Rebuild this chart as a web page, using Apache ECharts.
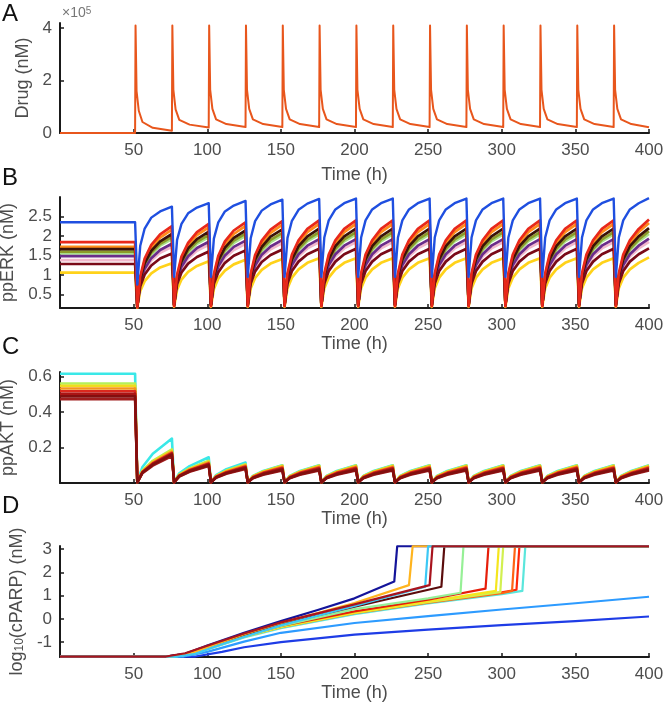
<!DOCTYPE html>
<html><head><meta charset="utf-8">
<script src="https://cdn.jsdelivr.net/npm/echarts@6/dist/echarts.min.js"></script>
<style>html,body{margin:0;padding:0;background:#fff}#c{width:666px;height:708px}</style>
</head><body><div id="c"></div>
<script>
// ---------- shared ticks ----------
const timeTicks = [50, 100, 150, 200, 250, 300, 350, 400];
const drugTicks = [0, 200000, 400000];
const erkTicks = [0.5, 1, 1.5, 2, 2.5];
const aktTicks = [0.2, 0.4, 0.6];
const parpTicks = [-1, 0, 1, 2, 3];

// ---------- Panel A: drug (nM) ----------
const drugTime = [0, 51,
  51.3, 52, 53.5, 56, 63, 76,
  76.3, 77, 78.5, 81, 88, 101,
  101.3, 102, 103.5, 106, 113, 126,
  126.3, 127, 128.5, 131, 138, 151,
  151.3, 152, 153.5, 156, 163, 176,
  176.3, 177, 178.5, 181, 188, 201,
  201.3, 202, 203.5, 206, 213, 226,
  226.3, 227, 228.5, 231, 238, 251,
  251.3, 252, 253.5, 256, 263, 276,
  276.3, 277, 278.5, 281, 288, 301,
  301.3, 302, 303.5, 306, 313, 326,
  326.3, 327, 328.5, 331, 338, 351,
  351.3, 352, 353.5, 356, 363, 376,
  376.3, 377, 378.5, 381, 388, 400];
const drugValue = [0, 0,
  410000, 160000, 85000, 42000, 20000, 9000,
  410000, 165000, 90000, 50000, 32000, 21000,
  410000, 165000, 92000, 52000, 34000, 23000,
  410000, 165000, 92000, 52000, 34000, 23000,
  410000, 165000, 92000, 52000, 34000, 23000,
  410000, 165000, 92000, 52000, 34000, 23000,
  410000, 165000, 92000, 52000, 34000, 23000,
  410000, 165000, 92000, 52000, 34000, 23000,
  410000, 165000, 92000, 52000, 34000, 23000,
  410000, 165000, 92000, 52000, 34000, 23000,
  410000, 165000, 92000, 52000, 34000, 23000,
  410000, 165000, 92000, 52000, 34000, 23000,
  410000, 165000, 92000, 52000, 34000, 23000,
  410000, 165000, 92000, 52000, 34000, 22000];

// ---------- Panel B: ppERK (nM) ----------
const erkTime = [0, 51,
  52.5, 54.5, 57.5, 62, 68, 76,
  77.5, 79.5, 82.5, 87, 93, 101,
  102.5, 104.5, 107.5, 112, 118, 126,
  127.5, 129.5, 132.5, 137, 143, 151,
  152.5, 154.5, 157.5, 162, 168, 176,
  177.5, 179.5, 182.5, 187, 193, 201,
  202.5, 204.5, 207.5, 212, 218, 226,
  227.5, 229.5, 232.5, 237, 243, 251,
  252.5, 254.5, 257.5, 262, 268, 276,
  277.5, 279.5, 282.5, 287, 293, 301,
  302.5, 304.5, 307.5, 312, 318, 326,
  327.5, 329.5, 332.5, 337, 343, 351,
  352.5, 354.5, 357.5, 362, 368, 376,
  377.5, 379.5, 382.5, 387, 393, 400];

const erkBlue = [2.35, 2.35,
  0.75, 1.75, 2.19, 2.47, 2.63, 2.75,
  0.95, 1.9, 2.31, 2.58, 2.73, 2.84,
  0.95, 1.93, 2.35, 2.63, 2.78, 2.9,
  0.95, 1.94, 2.38, 2.65, 2.81, 2.93,
  0.95, 1.95, 2.39, 2.67, 2.83, 2.95,
  0.95, 1.96, 2.4, 2.68, 2.84, 2.96,
  0.95, 1.96, 2.4, 2.68, 2.84, 2.96,
  0.95, 1.96, 2.4, 2.68, 2.84, 2.96,
  0.95, 1.96, 2.4, 2.68, 2.84, 2.96,
  0.95, 1.96, 2.4, 2.68, 2.84, 2.96,
  0.95, 1.96, 2.4, 2.68, 2.84, 2.96,
  0.95, 1.96, 2.4, 2.68, 2.84, 2.96,
  0.95, 1.96, 2.4, 2.68, 2.84, 2.96,
  0.95, 1.96, 2.4, 2.68, 2.84, 2.97];
const erkRed = [1.84, 1.84,
  0.17, 0.96, 1.42, 1.77, 2.04, 2.25,
  0.2, 1.0, 1.47, 1.82, 2.1, 2.31,
  0.2, 1.02, 1.49, 1.86, 2.14, 2.35,
  0.2, 1.03, 1.51, 1.88, 2.16, 2.38,
  0.2, 1.04, 1.52, 1.89, 2.18, 2.4,
  0.2, 1.04, 1.52, 1.89, 2.18, 2.4,
  0.2, 1.04, 1.52, 1.89, 2.18, 2.4,
  0.2, 1.04, 1.52, 1.89, 2.18, 2.4,
  0.2, 1.04, 1.52, 1.89, 2.18, 2.4,
  0.2, 1.04, 1.52, 1.89, 2.18, 2.4,
  0.2, 1.04, 1.52, 1.89, 2.18, 2.4,
  0.2, 1.04, 1.52, 1.89, 2.18, 2.4,
  0.2, 1.04, 1.52, 1.89, 2.18, 2.4,
  0.2, 1.04, 1.52, 1.89, 2.18, 2.42];
const erkOrange = [1.72, 1.72,
  0.16, 0.92, 1.36, 1.7, 1.96, 2.16,
  0.2, 0.97, 1.41, 1.76, 2.02, 2.22,
  0.2, 0.98, 1.44, 1.79, 2.05, 2.26,
  0.2, 0.99, 1.45, 1.81, 2.08, 2.29,
  0.2, 1.0, 1.47, 1.82, 2.1, 2.31,
  0.2, 1.0, 1.47, 1.82, 2.1, 2.31,
  0.2, 1.0, 1.47, 1.82, 2.1, 2.31,
  0.2, 1.0, 1.47, 1.82, 2.1, 2.31,
  0.2, 1.0, 1.47, 1.82, 2.1, 2.31,
  0.2, 1.0, 1.47, 1.82, 2.1, 2.31,
  0.2, 1.0, 1.47, 1.82, 2.1, 2.31,
  0.2, 1.0, 1.47, 1.82, 2.1, 2.31,
  0.2, 1.0, 1.47, 1.82, 2.1, 2.31,
  0.2, 1.0, 1.47, 1.82, 2.1, 2.33];
const erkDark = [1.66, 1.66,
  0.18, 0.89, 1.3, 1.62, 1.86, 2.05,
  0.22, 0.94, 1.35, 1.68, 1.92, 2.11,
  0.22, 0.95, 1.37, 1.7, 1.95, 2.14,
  0.22, 0.96, 1.39, 1.72, 1.98, 2.17,
  0.22, 0.97, 1.4, 1.74, 1.99, 2.19,
  0.22, 0.97, 1.4, 1.74, 1.99, 2.19,
  0.22, 0.97, 1.4, 1.74, 1.99, 2.19,
  0.22, 0.97, 1.4, 1.74, 1.99, 2.19,
  0.22, 0.97, 1.4, 1.74, 1.99, 2.19,
  0.22, 0.97, 1.4, 1.74, 1.99, 2.19,
  0.22, 0.97, 1.4, 1.74, 1.99, 2.19,
  0.22, 0.97, 1.4, 1.74, 1.99, 2.19,
  0.22, 0.97, 1.4, 1.74, 1.99, 2.19,
  0.22, 0.97, 1.4, 1.74, 1.99, 2.2];
const erkOlive = [1.6, 1.6,
  0.2, 0.88, 1.27, 1.57, 1.8, 1.98,
  0.24, 0.92, 1.31, 1.62, 1.85, 2.03,
  0.24, 0.93, 1.33, 1.64, 1.88, 2.06,
  0.24, 0.94, 1.34, 1.66, 1.9, 2.08,
  0.24, 0.95, 1.36, 1.67, 1.91, 2.1,
  0.24, 0.95, 1.36, 1.67, 1.91, 2.1,
  0.24, 0.95, 1.36, 1.67, 1.91, 2.1,
  0.24, 0.95, 1.36, 1.67, 1.91, 2.1,
  0.24, 0.95, 1.36, 1.67, 1.91, 2.1,
  0.24, 0.95, 1.36, 1.67, 1.91, 2.1,
  0.24, 0.95, 1.36, 1.67, 1.91, 2.1,
  0.24, 0.95, 1.36, 1.67, 1.91, 2.1,
  0.24, 0.95, 1.36, 1.67, 1.91, 2.1,
  0.24, 0.95, 1.36, 1.67, 1.91, 2.12];
const erkMint = [1.55, 1.55,
  0.2, 0.85, 1.23, 1.52, 1.75, 1.92,
  0.24, 0.9, 1.28, 1.57, 1.8, 1.97,
  0.24, 0.91, 1.3, 1.6, 1.82, 2.0,
  0.24, 0.92, 1.31, 1.61, 1.84, 2.02,
  0.24, 0.92, 1.32, 1.63, 1.86, 2.04,
  0.24, 0.92, 1.32, 1.63, 1.86, 2.04,
  0.24, 0.92, 1.32, 1.63, 1.86, 2.04,
  0.24, 0.92, 1.32, 1.63, 1.86, 2.04,
  0.24, 0.92, 1.32, 1.63, 1.86, 2.04,
  0.24, 0.92, 1.32, 1.63, 1.86, 2.04,
  0.24, 0.92, 1.32, 1.63, 1.86, 2.04,
  0.24, 0.92, 1.32, 1.63, 1.86, 2.04,
  0.24, 0.92, 1.32, 1.63, 1.86, 2.04,
  0.24, 0.92, 1.32, 1.63, 1.86, 2.05];
const erkPurple = [1.48, 1.48,
  0.2, 0.81, 1.16, 1.43, 1.64, 1.8,
  0.24, 0.85, 1.21, 1.48, 1.69, 1.85,
  0.24, 0.86, 1.22, 1.5, 1.72, 1.88,
  0.24, 0.87, 1.24, 1.52, 1.73, 1.9,
  0.24, 0.88, 1.25, 1.53, 1.75, 1.92,
  0.24, 0.88, 1.25, 1.53, 1.75, 1.92,
  0.24, 0.88, 1.25, 1.53, 1.75, 1.92,
  0.24, 0.88, 1.25, 1.53, 1.75, 1.92,
  0.24, 0.88, 1.25, 1.53, 1.75, 1.92,
  0.24, 0.88, 1.25, 1.53, 1.75, 1.92,
  0.24, 0.88, 1.25, 1.53, 1.75, 1.92,
  0.24, 0.88, 1.25, 1.53, 1.75, 1.92,
  0.24, 0.88, 1.25, 1.53, 1.75, 1.92,
  0.24, 0.88, 1.25, 1.53, 1.75, 1.93];
const erkPink = [1.38, 1.38,
  0.2, 0.78, 1.11, 1.37, 1.57, 1.72,
  0.24, 0.82, 1.16, 1.42, 1.62, 1.77,
  0.24, 0.83, 1.18, 1.44, 1.64, 1.8,
  0.24, 0.84, 1.19, 1.46, 1.66, 1.82,
  0.24, 0.85, 1.2, 1.47, 1.68, 1.84,
  0.24, 0.85, 1.2, 1.47, 1.68, 1.84,
  0.24, 0.85, 1.2, 1.47, 1.68, 1.84,
  0.24, 0.85, 1.2, 1.47, 1.68, 1.84,
  0.24, 0.85, 1.2, 1.47, 1.68, 1.84,
  0.24, 0.85, 1.2, 1.47, 1.68, 1.84,
  0.24, 0.85, 1.2, 1.47, 1.68, 1.84,
  0.24, 0.85, 1.2, 1.47, 1.68, 1.84,
  0.24, 0.85, 1.2, 1.47, 1.68, 1.84,
  0.24, 0.85, 1.2, 1.47, 1.68, 1.85];
const erkDarkRed = [1.28, 1.28,
  0.2, 0.71, 1.01, 1.24, 1.42, 1.55,
  0.24, 0.76, 1.06, 1.29, 1.46, 1.6,
  0.24, 0.77, 1.07, 1.31, 1.49, 1.63,
  0.24, 0.78, 1.09, 1.33, 1.51, 1.65,
  0.24, 0.78, 1.1, 1.34, 1.53, 1.67,
  0.24, 0.78, 1.1, 1.34, 1.53, 1.67,
  0.24, 0.78, 1.1, 1.34, 1.53, 1.67,
  0.24, 0.78, 1.1, 1.34, 1.53, 1.67,
  0.24, 0.78, 1.1, 1.34, 1.53, 1.67,
  0.24, 0.78, 1.1, 1.34, 1.53, 1.67,
  0.24, 0.78, 1.1, 1.34, 1.53, 1.67,
  0.24, 0.78, 1.1, 1.34, 1.53, 1.67,
  0.24, 0.78, 1.1, 1.34, 1.53, 1.67,
  0.24, 0.78, 1.1, 1.34, 1.53, 1.68];
const erkYellow = [1.06, 1.06,
  0.16, 0.59, 0.84, 1.04, 1.19, 1.3,
  0.18, 0.62, 0.88, 1.08, 1.23, 1.35,
  0.18, 0.64, 0.91, 1.11, 1.27, 1.39,
  0.18, 0.65, 0.92, 1.13, 1.29, 1.41,
  0.18, 0.66, 0.93, 1.14, 1.31, 1.43,
  0.18, 0.66, 0.93, 1.14, 1.31, 1.43,
  0.18, 0.66, 0.93, 1.14, 1.31, 1.43,
  0.18, 0.66, 0.93, 1.14, 1.31, 1.43,
  0.18, 0.66, 0.93, 1.14, 1.31, 1.43,
  0.18, 0.66, 0.93, 1.14, 1.31, 1.43,
  0.18, 0.66, 0.93, 1.14, 1.31, 1.43,
  0.18, 0.66, 0.93, 1.14, 1.31, 1.43,
  0.18, 0.66, 0.93, 1.14, 1.31, 1.43,
  0.18, 0.66, 0.93, 1.14, 1.31, 1.45];

// ---------- Panel C: ppAKT (nM) ----------
const aktTime = [0, 51,
  52.5, 56, 63, 76,
  77.5, 81, 88, 101,
  102.5, 106, 113, 126,
  127.5, 131, 138, 151,
  152.5, 156, 163, 176,
  177.5, 181, 188, 201,
  202.5, 206, 213, 226,
  227.5, 231, 238, 251,
  252.5, 256, 263, 276,
  277.5, 281, 288, 301,
  302.5, 306, 313, 326,
  327.5, 331, 338, 351,
  352.5, 356, 363, 376,
  377.5, 381, 388, 400];
const aktCyan = [0.615, 0.615,
  0.004, 0.09, 0.165, 0.25,
  0.004, 0.055, 0.095, 0.145,
  0.004, 0.045, 0.078, 0.115,
  0.004, 0.04, 0.068, 0.1,
  0.004, 0.04, 0.068, 0.1,
  0.004, 0.04, 0.068, 0.1,
  0.004, 0.04, 0.068, 0.1,
  0.004, 0.04, 0.068, 0.1,
  0.004, 0.04, 0.068, 0.1,
  0.004, 0.04, 0.068, 0.1,
  0.004, 0.04, 0.068, 0.1,
  0.004, 0.04, 0.068, 0.1,
  0.004, 0.04, 0.068, 0.1,
  0.004, 0.04, 0.068, 0.1];
const aktLime = [0.56, 0.56,
  0.004, 0.07, 0.125, 0.19,
  0.004, 0.048, 0.082, 0.125,
  0.004, 0.04, 0.07, 0.105,
  0.004, 0.038, 0.065, 0.098,
  0.004, 0.038, 0.065, 0.098,
  0.004, 0.038, 0.065, 0.098,
  0.004, 0.038, 0.065, 0.098,
  0.004, 0.038, 0.065, 0.098,
  0.004, 0.038, 0.065, 0.098,
  0.004, 0.038, 0.065, 0.098,
  0.004, 0.038, 0.065, 0.098,
  0.004, 0.038, 0.065, 0.098,
  0.004, 0.038, 0.065, 0.098,
  0.004, 0.038, 0.065, 0.098];
const aktYellow = [0.548, 0.548,
  0.004, 0.067, 0.12, 0.182,
  0.004, 0.046, 0.079, 0.12,
  0.004, 0.039, 0.068, 0.102,
  0.004, 0.037, 0.064, 0.096,
  0.004, 0.037, 0.064, 0.096,
  0.004, 0.037, 0.064, 0.096,
  0.004, 0.037, 0.064, 0.096,
  0.004, 0.037, 0.064, 0.096,
  0.004, 0.037, 0.064, 0.096,
  0.004, 0.037, 0.064, 0.096,
  0.004, 0.037, 0.064, 0.096,
  0.004, 0.037, 0.064, 0.096,
  0.004, 0.037, 0.064, 0.096,
  0.004, 0.037, 0.064, 0.096];
const aktOrange = [0.532, 0.532,
  0.004, 0.064, 0.115, 0.176,
  0.004, 0.044, 0.076, 0.116,
  0.004, 0.037, 0.065, 0.098,
  0.004, 0.035, 0.061, 0.092,
  0.004, 0.035, 0.061, 0.092,
  0.004, 0.035, 0.061, 0.092,
  0.004, 0.035, 0.061, 0.092,
  0.004, 0.035, 0.061, 0.092,
  0.004, 0.035, 0.061, 0.092,
  0.004, 0.035, 0.061, 0.092,
  0.004, 0.035, 0.061, 0.092,
  0.004, 0.035, 0.061, 0.092,
  0.004, 0.035, 0.061, 0.092,
  0.004, 0.035, 0.061, 0.092];
const aktRed = [0.517, 0.517,
  0.004, 0.062, 0.11, 0.17,
  0.004, 0.042, 0.072, 0.11,
  0.004, 0.035, 0.061, 0.093,
  0.004, 0.032, 0.057, 0.086,
  0.004, 0.032, 0.057, 0.086,
  0.004, 0.032, 0.057, 0.086,
  0.004, 0.032, 0.057, 0.086,
  0.004, 0.032, 0.057, 0.086,
  0.004, 0.032, 0.057, 0.086,
  0.004, 0.032, 0.057, 0.086,
  0.004, 0.032, 0.057, 0.086,
  0.004, 0.032, 0.057, 0.086,
  0.004, 0.032, 0.057, 0.086,
  0.004, 0.032, 0.057, 0.086];
const aktDarkRed = [0.502, 0.502,
  0.004, 0.06, 0.107, 0.165,
  0.004, 0.04, 0.07, 0.106,
  0.004, 0.033, 0.058, 0.088,
  0.004, 0.03, 0.053, 0.08,
  0.004, 0.03, 0.053, 0.08,
  0.004, 0.03, 0.053, 0.08,
  0.004, 0.03, 0.053, 0.08,
  0.004, 0.03, 0.053, 0.08,
  0.004, 0.03, 0.053, 0.08,
  0.004, 0.03, 0.053, 0.08,
  0.004, 0.03, 0.053, 0.08,
  0.004, 0.03, 0.053, 0.08,
  0.004, 0.03, 0.053, 0.08,
  0.004, 0.03, 0.053, 0.08];
const aktMaroon = [0.488, 0.488,
  0.004, 0.058, 0.103, 0.16,
  0.004, 0.038, 0.066, 0.1,
  0.004, 0.031, 0.055, 0.083,
  0.004, 0.028, 0.05, 0.075,
  0.004, 0.028, 0.05, 0.075,
  0.004, 0.028, 0.05, 0.075,
  0.004, 0.028, 0.05, 0.075,
  0.004, 0.028, 0.05, 0.075,
  0.004, 0.028, 0.05, 0.075,
  0.004, 0.028, 0.05, 0.075,
  0.004, 0.028, 0.05, 0.075,
  0.004, 0.028, 0.05, 0.075,
  0.004, 0.028, 0.05, 0.075,
  0.004, 0.028, 0.05, 0.075];
const aktBrick = [0.472, 0.472,
  0.004, 0.055, 0.098, 0.152,
  0.004, 0.036, 0.063, 0.096,
  0.004, 0.03, 0.052, 0.079,
  0.004, 0.027, 0.047, 0.07,
  0.004, 0.027, 0.047, 0.07,
  0.004, 0.027, 0.047, 0.07,
  0.004, 0.027, 0.047, 0.07,
  0.004, 0.027, 0.047, 0.07,
  0.004, 0.027, 0.047, 0.07,
  0.004, 0.027, 0.047, 0.07,
  0.004, 0.027, 0.047, 0.07,
  0.004, 0.027, 0.047, 0.07,
  0.004, 0.027, 0.047, 0.07,
  0.004, 0.027, 0.047, 0.07];

// ---------- Panel D: log10(cPARP) (nM), [time, value] ----------
const parpBlue = [[0,-1.62],[92,-1.62],[110,-1.42],[125,-1.22],[150,-1.0],[200,-0.68],[250,-0.46],[300,-0.27],[350,-0.1],[400,0.1]];
const parpLightBlue = [[0,-1.62],[84,-1.62],[100,-1.42],[125,-0.98],[150,-0.6],[200,-0.18],[250,0.12],[300,0.4],[350,0.67],[400,0.95]];
const parpCyan = [[0,-1.62],[78,-1.62],[91,-1.5],[100,-1.32],[125,-0.8],[150,-0.4],[200,0.2],[250,0.66],[300,1.06],[314,1.2],[316,3.12],[400,3.12]];
const parpScarlet = [[0,-1.62],[74,-1.62],[87,-1.5],[100,-1.26],[125,-0.76],[150,-0.35],[200,0.26],[250,0.72],[300,1.14],[310,1.25],[312,3.12],[400,3.12]];
const parpOrangeRed = [[0,-1.62],[74,-1.62],[87,-1.5],[100,-1.26],[125,-0.76],[150,-0.36],[200,0.24],[250,0.7],[300,1.1],[307,1.2],[309,3.12],[400,3.12]];
const parpLime = [[0,-1.62],[77,-1.62],[90,-1.5],[100,-1.3],[125,-0.78],[150,-0.36],[200,0.25],[250,0.72],[299,1.15],[301,3.12],[400,3.12]];
const parpYellow = [[0,-1.62],[76,-1.62],[89,-1.5],[100,-1.27],[125,-0.75],[150,-0.34],[200,0.27],[250,0.75],[296,1.2],[298,3.12],[400,3.12]];
const parpRed = [[0,-1.62],[74,-1.62],[87,-1.5],[100,-1.24],[125,-0.72],[150,-0.3],[200,0.32],[250,0.82],[289,1.3],[291,3.12],[400,3.12]];
const parpMint = [[0,-1.62],[78,-1.62],[90,-1.5],[100,-1.28],[125,-0.74],[150,-0.3],[200,0.42],[250,0.88],[272,1.12],[274,3.12],[400,3.12]];
const parpMaroon = [[0,-1.62],[72,-1.62],[85,-1.5],[100,-1.2],[125,-0.68],[150,-0.22],[200,0.52],[259,1.38],[261,3.12],[400,3.12]];
const parpDarkBlue = [[0,-1.62],[72,-1.62],[85,-1.5],[100,-1.15],[125,-0.6],[150,-0.1],[175,0.38],[200,0.88],[227,1.6],[229,3.12],[400,3.12]];
const parpAmber = [[0,-1.62],[75,-1.62],[88,-1.5],[100,-1.22],[125,-0.66],[150,-0.18],[175,0.25],[200,0.68],[237,1.45],[239.5,3.12],[400,3.12]];
const parpSky = [[0,-1.62],[80,-1.62],[92,-1.5],[105,-1.2],[125,-0.78],[150,-0.28],[200,0.55],[248,1.38],[250,3.12],[400,3.12]];
const parpCrimson = [[0,-1.62],[72,-1.62],[85,-1.48],[100,-1.16],[125,-0.63],[150,-0.15],[200,0.62],[251,1.45],[253,3.12],[400,3.12]];

// ---------- build ----------
const FONT = '"Liberation Sans", Arial, Helvetica, sans-serif';
const AX = '#1a1a1a', TXT = '#4d4d4d';
const zip = (t, v) => t.map((x, i) => [x, v[i]]);

const gridsPx = [[23, 110], [197, 111], [372, 111], [546, 111]];
const yNames = ['Drug (nM)', 'ppERK (nM)', 'ppAKT (nM)', '{n|log}{s|10}{n|(cPARP) (nM)}'];
const yRange = [[0, 420000], [0.15, 3.0], [0, 0.625], [-1.64, 3.13]];
const yTickSets = [drugTicks, erkTicks, aktTicks, parpTicks];
const yGap = [26, 31, 31, 31];
const xGap = [33, 27, 27, 27];

const grid = gridsPx.map(([t, h]) => ({ left: 60, width: 589, top: t, height: h, outerBoundsMode: 'none', containLabel: false }));
const xAxis = gridsPx.map((g, i) => ({
  type: 'value', gridIndex: i, min: 0, max: 400,
  name: 'Time (h)', nameLocation: 'middle', nameGap: xGap[i],
  nameTextStyle: { color: TXT, fontSize: 18, fontFamily: FONT },
  axisLine: { show: true, onZero: false, lineStyle: { color: AX, width: 2 } },
  axisTick: { show: true, inside: true, length: 4, customValues: timeTicks, lineStyle: { color: AX, width: 1.5 } },
  axisLabel: { customValues: timeTicks, color: TXT, fontSize: 17, margin: 9, fontFamily: FONT },
  splitLine: { show: false }
}));
const yAxis = gridsPx.map((g, i) => ({
  type: 'value', gridIndex: i, min: yRange[i][0], max: yRange[i][1],
  name: yNames[i], nameLocation: 'middle', nameGap: yGap[i],
  nameTextStyle: { color: TXT, fontSize: 18, fontFamily: FONT,
    rich: { n: { fontSize: 18, color: TXT, fontFamily: FONT }, s: { fontSize: 12, color: TXT, fontFamily: FONT, verticalAlign: 'bottom', padding: [6, 0, 0, 0] } } },
  axisLine: { show: true, onZero: false, lineStyle: { color: AX, width: 2 } },
  axisTick: { show: true, inside: true, length: 4, customValues: yTickSets[i], lineStyle: { color: AX, width: 1.5 } },
  axisLabel: { customValues: yTickSets[i], color: TXT, fontSize: 17, margin: 8, fontFamily: FONT,
    formatter: i === 0 ? (v => String(Math.round(v / 100000))) : (v => String(v)) },
  splitLine: { show: false }
}));

function line(idx, data, color, width) {
  return { type: 'line', xAxisIndex: idx, yAxisIndex: idx, data, showSymbol: false, symbol: 'none',
    smooth: false, lineStyle: { color, width, join: 'round' }, itemStyle: { color },
    animation: false, silent: true };
}

const series = [
  line(0, zip(drugTime, drugValue), '#e8561c', 2),

  line(1, zip(erkTime, erkYellow), '#ffd21a', 2.7),
  line(1, zip(erkTime, erkPink), '#f2b8cc', 2.7),
  line(1, zip(erkTime, erkMint), '#a8e088', 2.7),
  line(1, zip(erkTime, erkOrange), '#ff8c1a', 2.7),
  line(1, zip(erkTime, erkOlive), '#8c9a2a', 2.7),
  line(1, zip(erkTime, erkPurple), '#6a2c8a', 2.7),
  line(1, zip(erkTime, erkDarkRed), '#7a0a18', 2.7),
  line(1, zip(erkTime, erkDark), '#3a1208', 2.7),
  line(1, zip(erkTime, erkRed), '#e8281a', 2.7),
  line(1, zip(erkTime, erkBlue), '#1f4fe0', 2.4),

  line(2, zip(aktTime, aktCyan), '#3ae8e8', 2.6),
  line(2, zip(aktTime, aktLime), '#b4f05a', 2.6),
  line(2, zip(aktTime, aktYellow), '#f0dc1e', 2.6),
  line(2, zip(aktTime, aktOrange), '#f5961e', 2.6),
  line(2, zip(aktTime, aktRed), '#dc281e', 2.6),
  line(2, zip(aktTime, aktBrick), '#a01e1e', 2.6),
  line(2, zip(aktTime, aktDarkRed), '#aa1414', 2.6),
  line(2, zip(aktTime, aktMaroon), '#820f0f', 2.6),

  line(3, parpBlue, '#1e3ce6', 2.2),
  line(3, parpLightBlue, '#2d9bff', 2.2),
  line(3, parpCyan, '#5ae6dc', 2.2),
  line(3, parpScarlet, '#ff280a', 2.2),
  line(3, parpOrangeRed, '#ff6414', 2.2),
  line(3, parpLime, '#d2f050', 2.2),
  line(3, parpYellow, '#f5e61e', 2.2),
  line(3, parpRed, '#e61e0a', 2.2),
  line(3, parpMint, '#96f096', 2.2),
  line(3, parpMaroon, '#5a0c0c', 2.2),
  line(3, parpDarkBlue, '#14149a', 2.2),
  line(3, parpAmber, '#ffb41e', 2.2),
  line(3, parpSky, '#3cc8f5', 2.2),
  line(3, parpCrimson, '#a8141e', 2.2)
];

const letterStyle = { fill: '#111', fontSize: 24, fontFamily: '"Liberation Sans Narrow", "Liberation Sans", Arial, sans-serif' };
const graphic = [
  { type: 'text', left: 2, top: 2, style: Object.assign({ text: 'A' }, letterStyle) },
  { type: 'text', left: 2, top: 166, style: Object.assign({ text: 'B' }, letterStyle) },
  { type: 'text', left: 2, top: 335, style: Object.assign({ text: 'C' }, letterStyle) },
  { type: 'text', left: 2, top: 494, style: Object.assign({ text: 'D' }, letterStyle) },
  { type: 'text', left: 62, top: 6, style: { text: '×10{s|5}', fill: '#777', fontSize: 14, fontFamily: FONT,
      rich: { s: { fontSize: 10, fill: '#777', verticalAlign: 'top', fontFamily: FONT } } } }
];

const chart = echarts.init(document.getElementById('c'), null, { renderer: 'canvas' });
chart.setOption({ animation: false, backgroundColor: '#fff', grid, xAxis, yAxis, series, graphic });
</script></body></html>
